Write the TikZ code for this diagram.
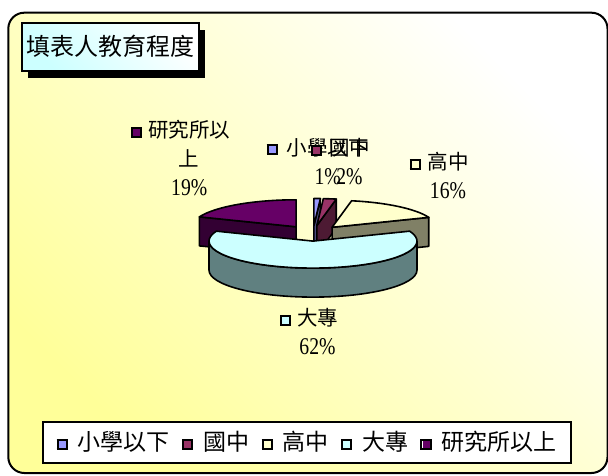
\documentclass[tikz,border=0pt]{standalone}
\usepackage{fontspec}
\setmainfont{Liberation Serif}
\newfontfamily\cjk{Noto Sans CJK TC}
\newfontfamily\pctfont[FakeStretch=0.82]{Liberation Serif}
\usetikzlibrary{shadows}

\definecolor{bgYellow}{HTML}{FFFF99}
\definecolor{xiaoTop}{HTML}{9999FF}
\definecolor{xiaoSide}{HTML}{4D4D80}
\definecolor{guoTop}{HTML}{993366}
\definecolor{guoSide}{HTML}{4D1A33}
\definecolor{gaoTop}{HTML}{FFFFCC}
\definecolor{gaoSide}{HTML}{808066}
\definecolor{daTop}{HTML}{CCFFFF}
\definecolor{daSide}{HTML}{608080}
\definecolor{yanTop}{HTML}{660066}
\definecolor{yanSide}{HTML}{330033}

\newcommand{\legsq}[2][1.8pt]{\raisebox{#1}{\setlength{\fboxsep}{0pt}\setlength{\fboxrule}{2pt}\fcolorbox{black}{#2}{\rule{0pt}{7pt}\rule{7pt}{0pt}}}}
\newcommand{\pct}[1]{{\pctfont\fontsize{24}{29}\selectfont #1\%}}

\begin{document}
\begin{tikzpicture}[x=1pt,y=1pt,
    ell/.style={x radius=104,y radius=27},
    slice/.style={draw,line width=1.6pt,line join=round},
    pielabel/.style={align=center,inner sep=0pt,anchor=north,font=\cjk\fontsize{20.5}{29}\selectfont}]
    \useasboundingbox (0,0) rectangle (608,475);
    %% Frame
    \path[draw,line width=2pt,rounded corners=16pt,top color=white,bottom color=bgYellow,shading angle=-45] (8.3,2) rectangle (607.5,462.3);
    %% Title
    \node[draw,line width=2pt,minimum width=177pt,minimum height=48pt,inner sep=0pt,
        top color=white,bottom color=daTop,shading angle=-45,
        drop shadow={shadow xshift=6pt,shadow yshift=-7pt,opacity=1,fill=black},
        font=\cjk\fontsize{24}{28}\selectfont] (title) at (110.3,428.3) {填表人教育程度};
    %% Slice centres
    \coordinate (cYan) at (296.1,248.2);
    \coordinate (cXiao) at (313.9,249.5);
    \coordinate (cGuo) at (316.8,249.4);
    \coordinate (cGao) at (332.1,247.7);
    \coordinate (cDa) at (313,233.9);
    %% Slices, back to front
    \begin{scope}[shift={(cYan)}]
        \draw[slice,fill=yanSide] (0,0) -- (158.4:104 and 27) -- ++(0,-29) -- (0,-29) -- cycle;
        \draw[slice,fill=yanTop] (0,0) -- (90:104 and 27) arc[ell,start angle=90,end angle=158.4] -- cycle;
    \end{scope}
    \begin{scope}[shift={(cXiao)}]
        \draw[slice,fill=xiaoSide] (0,0) -- (86.4:104 and 27) -- ++(0,-29) -- (0,-29) -- cycle;
        \draw[slice,fill=xiaoTop] (0,0) -- (86.4:104 and 27) arc[ell,start angle=86.4,end angle=90] -- cycle;
    \end{scope}
    \begin{scope}[shift={(cGuo)}]
        \draw[slice,fill=guoSide] (0,0) -- (79.2:104 and 27) -- ++(0,-29) -- (0,-29) -- cycle;
        \draw[slice,fill=guoTop] (0,0) -- (79.2:104 and 27) arc[ell,start angle=79.2,end angle=86.4] -- cycle;
    \end{scope}
    \begin{scope}[shift={(cGao)}]
        \draw[slice,fill=gaoSide] (0,0) -- (21.6:104 and 27) -- ++(0,-29) -- (0,-29) -- cycle;
        \draw[slice,fill=gaoTop] (0,0) -- (21.6:104 and 27) arc[ell,start angle=21.6,end angle=79.2] -- cycle;
    \end{scope}
    \begin{scope}[shift={(cDa)}]
        \draw[slice,fill=daSide] (180:104 and 27) arc[ell,start angle=180,end angle=360] -- ++(0,-29) arc[ell,start angle=360,end angle=180] -- cycle;
        \draw[slice,fill=daTop] (0,0) -- (21.6:104 and 27) arc[ell,start angle=21.6,end angle=-201.6] -- cycle;
    \end{scope}
    %% Data labels
    \node[pielabel] (lblYan) at (189.2,355) {\llap{\legsq{yanTop}\hspace{6pt}}研究所以\\上\\\pct{19}};
    \node[pielabel] (lblXiao) at (327.7,337) {\llap{\legsq{xiaoTop}\hspace{9pt}}小學以下\\\pct{1}};
    \node[pielabel] (lblGuo) at (349.5,336.5) {\llap{\legsq{guoTop}\hspace{7pt}}國中\\\pct{2}};
    \node[pielabel] (lblGao) at (448,322.5) {\llap{\legsq{gaoTop}\hspace{7pt}}高中\\\pct{16}};
    \node[pielabel] (lblDa) at (317.5,166.5) {\llap{\legsq{daTop}\hspace{6pt}}大專\\\pct{62}};
    %% Legend
    \node[draw,line width=2pt,fill=white,minimum width=528pt,minimum height=41pt,inner sep=0pt,
        font=\cjk\fontsize{23}{28}\selectfont] (legend) at (306.5,32.8)
        {\legsq[2.8pt]{xiaoTop}\hspace{10pt}小學以下\hspace{12.5pt}\legsq[2.8pt]{guoTop}\hspace{10pt}國中\hspace{12.5pt}\legsq[2.8pt]{gaoTop}\hspace{10pt}高中\hspace{12.5pt}\legsq[2.8pt]{daTop}\hspace{10pt}大專\hspace{12.5pt}\legsq[2.8pt]{yanTop}\hspace{10pt}研究所以上};
\end{tikzpicture}
\end{document}
